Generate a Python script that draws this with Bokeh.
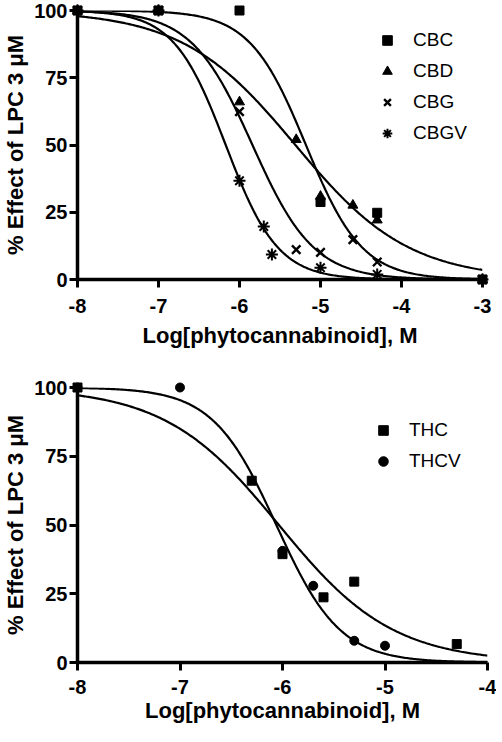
import numpy as np
from bokeh.plotting import figure
from bokeh.layouts import column
from bokeh.models import Range1d, FixedTicker, Legend, LegendItem
from bokeh.embed import file_html
from bokeh.resources import INLINE

FONT = "Liberation Sans"

# ---------------- data: top panel ----------------
CBC_X = [-8, -7, -6, -5, -4.3, -3]
CBC_Y = [100, 100, 100, 28.8, 24.8, 0]
CBD_X = [-8, -7, -6, -5.3, -5, -4.6, -4.3, -3]
CBD_Y = [100, 100, 66, 52, 30.9, 27.6, 22.1, 0]
CBG_X = [-8, -7, -6, -5.3, -5, -4.6, -4.3, -3]
CBG_Y = [100, 100, 62.4, 11.1, 10.1, 14.8, 6.5, 0]
CBGV_X = [-8, -7, -6, -5.7, -5.6, -5, -4.3, -3]
CBGV_Y = [100, 100, 36.7, 19.7, 9.3, 4.4, 1.9, 0]

# fitted sigmoid parameters (top=100, bottom=0)
TOP_FIT_NAMES = ["CBC", "CBD", "CBG", "CBGV"]
TOP_FIT_LOGIC50 = [-5.18, -5.31, -5.84, -6.17]
TOP_FIT_HILL = [1.25, 0.62, 1.15, 1.35]

# ---------------- data: bottom panel ----------------
THC_X = [-8, -6.3, -6, -5.6, -5.3, -4.3]
THC_Y = [100, 66.1, 39.4, 23.7, 29.4, 6.7]
THCV_X = [-8, -7, -6, -5.7, -5.3, -5]
THCV_Y = [100, 100, 40.6, 27.9, 7.9, 6.1]

BOT_FIT_NAMES = ["THC", "THCV"]
BOT_FIT_LOGIC50 = [-6.035, -6.06]
BOT_FIT_HILL = [0.78, 1.4]

TOP_X_TICKS = [-8, -7, -6, -5, -4, -3]
BOT_X_TICKS = [-8, -7, -6, -5, -4]
Y_TICKS = [0, 25, 50, 75, 100]

X_LABEL = "Log[phytocannabinoid], M"
Y_LABEL = "% Effect of LPC 3 \u03bcM"


def sigmoid(x, logic50, hill):
    return 100.0 / (1.0 + 10 ** ((x - logic50) * hill))


def style(p, xticks, xlabel_standoff, xtick_standoff):
    p.outline_line_color = None
    p.xgrid.visible = False
    p.ygrid.visible = False
    p.background_fill_color = "white"
    p.border_fill_color = "white"
    p.xaxis.ticker = FixedTicker(ticks=xticks)
    p.yaxis.ticker = FixedTicker(ticks=Y_TICKS)
    p.xaxis.major_label_overrides = {t: str(t) for t in xticks}
    p.yaxis.major_label_overrides = {t: str(t) for t in Y_TICKS}
    for ax in p.axis:
        ax.axis_line_width = 3.5
        ax.axis_line_color = "black"
        ax.major_tick_line_width = 3
        ax.major_tick_line_color = "black"
        ax.major_tick_out = 8
        ax.major_tick_in = 0
        ax.minor_tick_out = 0
        ax.minor_tick_in = 0
        ax.major_label_text_font = FONT
        ax.major_label_text_font_size = "20px"
        ax.major_label_text_font_style = "bold"
        ax.major_label_text_color = "black"
        ax.axis_label_text_font = FONT
        ax.axis_label_text_font_style = "bold"
        ax.axis_label_text_color = "black"
    p.xaxis.major_label_standoff = xtick_standoff
    p.yaxis.major_label_standoff = 2
    p.xaxis.axis_label = X_LABEL
    p.xaxis.axis_label_text_font_size = "22px"
    p.xaxis.axis_label_standoff = xlabel_standoff
    p.yaxis.axis_label = Y_LABEL
    p.yaxis.axis_label_text_font_size = "22px"
    p.yaxis.axis_label_standoff = 3


def add_legend(p, names, renderers, loc):
    items = [LegendItem(label=n, renderers=[r]) for n, r in zip(names, renderers)]
    lg = Legend(items=items, location=loc, orientation="vertical",
                glyph_width=24, glyph_height=24, label_height=24,
                spacing=7, padding=0, margin=0, label_standoff=14,
                label_text_font=FONT, label_text_font_size="19px",
                label_text_color="black",
                border_line_color=None, background_fill_alpha=0)
    p.add_layout(lg)


# ---------------- top figure ----------------
p1 = figure(frame_width=405, frame_height=269,
            x_range=Range1d(-8, -3), y_range=Range1d(0, 100),
            output_backend="svg", toolbar_location=None,
            min_border_left=71, min_border_right=14,
            min_border_top=10, min_border_bottom=75)
style(p1, TOP_X_TICKS, 7, 11)

xs_top = np.linspace(-8, -3, 300)
for c50, h in zip(TOP_FIT_LOGIC50, TOP_FIT_HILL):
    p1.line(xs_top, sigmoid(xs_top, c50, h), line_color="black", line_width=2.2)

r_cbc = p1.scatter(CBC_X, CBC_Y, marker="square", size=9, color="black", level="overlay")
r_cbd = p1.scatter(CBD_X, CBD_Y, marker="triangle", size=10, color="black", level="overlay")
r_cbg = p1.scatter(CBG_X, CBG_Y, marker="x", size=12, line_color="black",
                   line_width=2.4, level="overlay")
r_cbgv = p1.scatter(CBGV_X, CBGV_Y, marker="asterisk", size=12, line_color="black",
                    line_width=2.0, level="overlay")
add_legend(p1, TOP_FIT_NAMES, [r_cbc, r_cbd, r_cbg, r_cbgv], (298, 134))

# ---------------- bottom figure ----------------
p2 = figure(frame_width=410, frame_height=275,
            x_range=Range1d(-8, -4), y_range=Range1d(0, 100),
            output_backend="svg", toolbar_location=None,
            min_border_left=69, min_border_right=9,
            min_border_top=33, min_border_bottom=70)
style(p2, BOT_X_TICKS, 1, 9)

xs_bot = np.linspace(-8, -4, 300)
for c50, h in zip(BOT_FIT_LOGIC50, BOT_FIT_HILL):
    p2.line(xs_bot, sigmoid(xs_bot, c50, h), line_color="black", line_width=2.2)

r_thcv = p2.scatter(THCV_X, THCV_Y, marker="circle", size=9, color="black", level="overlay")
r_thc = p2.scatter(THC_X, THC_Y, marker="square", size=9, color="black", level="overlay")
add_legend(p2, BOT_FIT_NAMES, [r_thc, r_thcv], (294, 189))

layout = column(p1, p2, spacing=0)
open("out.html", "w").write(file_html(layout, INLINE))
